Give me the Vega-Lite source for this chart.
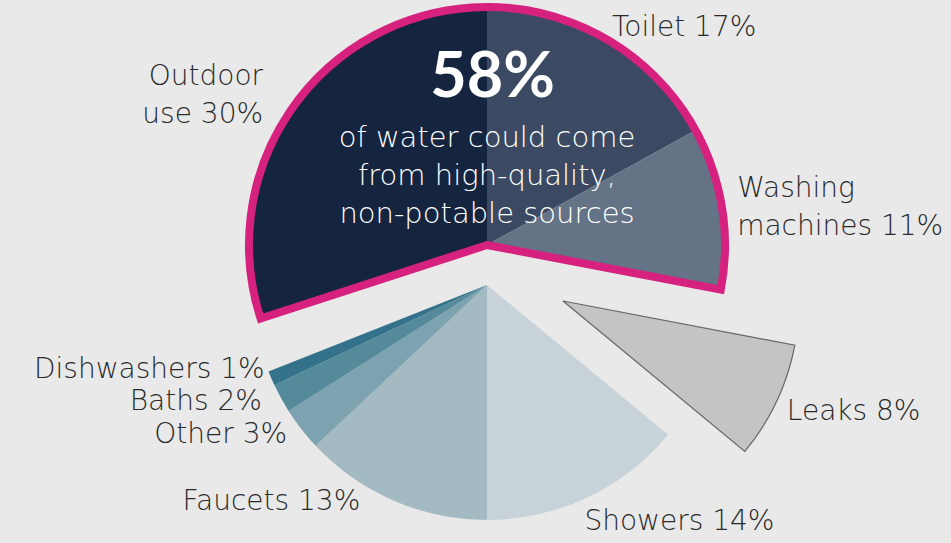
{
  "$schema": "https://vega.github.io/schema/vega-lite/v6.json",
  "width": 951,
  "height": 543,
  "autosize": {"type": "none"},
  "padding": 0,
  "background": "#e8e9e8",
  "config": {"view": {"stroke": null}, "text": {"font": "DejaVu Sans"}},
  "data": {"values": [
    {"use": "Outdoor use", "share": 0.30, "group": "Non-potable", "order": 1, "label": "Outdoor\nuse 30%"},
    {"use": "Toilet", "share": 0.17, "group": "Non-potable", "order": 2, "label": "Toilet 17%"},
    {"use": "Washing machines", "share": 0.11, "group": "Non-potable", "order": 3, "label": "Washing\nmachines 11%"},
    {"use": "Leaks", "share": 0.08, "group": "Leaks", "order": 4, "label": "Leaks 8%"},
    {"use": "Showers", "share": 0.14, "group": "Potable", "order": 5, "label": "Showers 14%"},
    {"use": "Faucets", "share": 0.13, "group": "Potable", "order": 6, "label": "Faucets 13%"},
    {"use": "Other", "share": 0.03, "group": "Potable", "order": 7, "label": "Other 3%"},
    {"use": "Baths", "share": 0.02, "group": "Potable", "order": 8, "label": "Baths 2%"},
    {"use": "Dishwashers", "share": 0.01, "group": "Potable", "order": 9, "label": "Dishwashers 1%"}
  ]},
  "layer": [
    {
      "transform": [
        {"stack": "share", "groupby": [], "sort": [{"field": "order"}], "as": ["s0", "s1"]},
        {"filter": "datum.group === 'Non-potable'"}
      ],
      "mark": {"type": "arc", "outerRadius": 238, "x": 487, "y": 245},
      "encoding": {
        "theta": {"field": "s0", "type": "quantitative", "scale": {"domain": [0, 1], "range": [4.39823, 10.68142]}},
        "theta2": {"field": "s1"},
        "color": {"field": "use", "type": "nominal", "legend": null,
          "scale": {"domain": ["Outdoor use", "Toilet", "Washing machines", "Leaks", "Showers", "Faucets", "Other", "Baths", "Dishwashers"],
                    "range": ["#15243f", "#3b4a62", "#647386", "#c4c4c4", "#c7d3d9", "#a4bac3", "#7da3b0", "#558a9b", "#33728a"]}}
      }
    },
    {
      "transform": [
        {"stack": "share", "groupby": [], "sort": [{"field": "order"}], "as": ["s0", "s1"]},
        {"filter": "datum.group === 'Leaks'"}
      ],
      "mark": {"type": "arc", "outerRadius": 236, "x": 563, "y": 301, "stroke": "#666666", "strokeWidth": 1.2},
      "encoding": {
        "theta": {"field": "s0", "type": "quantitative"},
        "theta2": {"field": "s1"},
        "color": {"field": "use", "type": "nominal", "legend": null}
      }
    },
    {
      "transform": [
        {"stack": "share", "groupby": [], "sort": [{"field": "order"}], "as": ["s0", "s1"]},
        {"filter": "datum.group === 'Potable'"}
      ],
      "mark": {"type": "arc", "outerRadius": 235, "x": 487, "y": 285},
      "encoding": {
        "theta": {"field": "s0", "type": "quantitative"},
        "theta2": {"field": "s1"},
        "color": {"field": "use", "type": "nominal", "legend": null}
      }
    },
    {
      "transform": [
        {"stack": "share", "groupby": [], "sort": [{"field": "order"}], "as": ["s0", "s1"]},
        {"filter": "datum.group === 'Non-potable'"},
        {"aggregate": [{"op": "min", "field": "s0", "as": "a0"}, {"op": "max", "field": "s1", "as": "a1"}]}
      ],
      "mark": {"type": "arc", "outerRadius": 238, "x": 487, "y": 245, "fill": null, "fillOpacity": 0, "stroke": "#d6217e", "strokeWidth": 8, "strokeJoin": "miter"},
      "encoding": {
        "theta": {"field": "a0", "type": "quantitative"},
        "theta2": {"field": "a1"}
      }
    },
    {
      "transform": [
        {"filter": "datum.group === 'Non-potable'"},
        {"aggregate": [{"op": "sum", "field": "share", "as": "total"}]}
      ],
      "mark": {"type": "text", "font": "Lato", "dx": 17, "dy": -194, "fontSize": 63, "fontWeight": "bold", "color": "#ffffff", "baseline": "middle", "align": "center"},
      "encoding": {"text": {"field": "total", "type": "quantitative", "format": ".0%"}}
    },
    {
      "transform": [
        {"filter": "datum.group === 'Non-potable'"},
        {"aggregate": [{"op": "sum", "field": "share", "as": "total"}]}
      ],
      "mark": {"type": "text", "dx": 11.5, "dy": -134, "fontSize": 29, "fontWeight": 200, "color": "#ffffff", "baseline": "middle", "align": "center", "lineBreak": "\n", "lineHeight": 38},
      "encoding": {"text": {"value": "of water could come\nfrom high-quality,\nnon-potable sources"}}
    },
    {
      "mark": {"type": "text", "radius": 270, "align": "right", "baseline": "middle", "dx": 6, "dy": -36, "fontSize": 28, "fontWeight": 200, "color": "#2a2a2a", "lineBreak": "\n", "lineHeight": 38},
      "encoding": {
        "theta": {"field": "share", "type": "quantitative", "stack": true},
        "order": {"field": "order"},
        "text": {"condition": {"test": "datum.use === 'Outdoor use'", "field": "label"}, "value": ""}
      }
    },
    {
      "mark": {"type": "text", "radius": 270, "align": "left", "baseline": "middle", "dx": -1, "dy": -11, "fontSize": 28, "fontWeight": 200, "color": "#2a2a2a", "lineBreak": "\n", "lineHeight": 38},
      "encoding": {
        "theta": {"field": "share", "type": "quantitative", "stack": true},
        "order": {"field": "order"},
        "text": {"condition": {"test": "datum.use === 'Toilet'", "field": "label"}, "value": ""}
      }
    },
    {
      "mark": {"type": "text", "radius": 270, "align": "left", "baseline": "middle", "dx": -5, "dy": -40, "fontSize": 28, "fontWeight": 200, "color": "#2a2a2a", "lineBreak": "\n", "lineHeight": 38},
      "encoding": {
        "theta": {"field": "share", "type": "quantitative", "stack": true},
        "order": {"field": "order"},
        "text": {"condition": {"test": "datum.use === 'Washing machines'", "field": "label"}, "value": ""}
      }
    },
    {
      "mark": {"type": "text", "radius": 270, "align": "left", "baseline": "middle", "dx": 67, "dy": 26, "fontSize": 28, "fontWeight": 200, "color": "#2a2a2a"},
      "encoding": {
        "theta": {"field": "share", "type": "quantitative", "stack": true},
        "order": {"field": "order"},
        "text": {"condition": {"test": "datum.use === 'Leaks'", "field": "label"}, "value": ""}
      }
    },
    {
      "mark": {"type": "text", "radius": 270, "align": "left", "baseline": "middle", "dx": -6, "dy": 6, "fontSize": 28, "fontWeight": 200, "color": "#2a2a2a"},
      "encoding": {
        "theta": {"field": "share", "type": "quantitative", "stack": true},
        "order": {"field": "order"},
        "text": {"condition": {"test": "datum.use === 'Showers'", "field": "label"}, "value": ""}
      }
    },
    {
      "mark": {"type": "text", "radius": 270, "align": "right", "baseline": "middle", "dx": -8, "dy": -17, "fontSize": 28, "fontWeight": 200, "color": "#2a2a2a"},
      "encoding": {
        "theta": {"field": "share", "type": "quantitative", "stack": true},
        "order": {"field": "order"},
        "text": {"condition": {"test": "datum.use === 'Faucets'", "field": "label"}, "value": ""}
      }
    },
    {
      "mark": {"type": "text", "radius": 270, "align": "right", "baseline": "middle", "dx": 25, "dy": -2, "fontSize": 28, "fontWeight": 200, "color": "#2a2a2a"},
      "encoding": {
        "theta": {"field": "share", "type": "quantitative", "stack": true},
        "order": {"field": "order"},
        "text": {"condition": {"test": "datum.use === 'Other'", "field": "label"}, "value": ""}
      }
    },
    {
      "mark": {"type": "text", "radius": 270, "align": "right", "baseline": "middle", "dx": 23, "dy": 0, "fontSize": 28, "fontWeight": 200, "color": "#2a2a2a"},
      "encoding": {
        "theta": {"field": "share", "type": "quantitative", "stack": true},
        "order": {"field": "order"},
        "text": {"condition": {"test": "datum.use === 'Baths'", "field": "label"}, "value": ""}
      }
    },
    {
      "mark": {"type": "text", "radius": 270, "align": "right", "baseline": "middle", "dx": 37, "dy": -9, "fontSize": 28, "fontWeight": 200, "color": "#2a2a2a"},
      "encoding": {
        "theta": {"field": "share", "type": "quantitative", "stack": true},
        "order": {"field": "order"},
        "text": {"condition": {"test": "datum.use === 'Dishwashers'", "field": "label"}, "value": ""}
      }
    }
  ]
}
